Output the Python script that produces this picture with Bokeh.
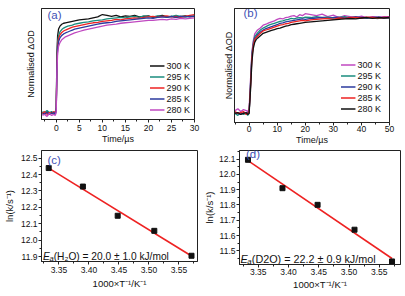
import numpy as np
from bokeh.plotting import figure
from bokeh.layouts import row, column
from bokeh.models import SingleIntervalTicker, FixedTicker, PrintfTickFormatter, Range1d
from bokeh.core.properties import value
from bokeh.embed import file_html
from bokeh.resources import INLINE

FONT = "Liberation Sans"

# ---------------- data: panel (a), H2O kinetics ----------------
time_a = [-3, -2.5, -2, -1.5, -1, -0.5, -0.2, 0, 0.15, 0.3,
          0.5, 0.8, 1.2, 1.6, 2, 2.5, 3, 3.5, 4, 5,
          6, 7, 8, 9, 10, 11, 12, 13, 14, 15,
          16, 17, 18, 19, 20, 21, 22, 23, 24, 25,
          26, 27, 28, 29, 30]
a_300 = [0.01, -0.01, 0.02, 0.0, 0.01, -0.01, 0.01, 0.06, 0.62, 0.80,
         0.87, 0.90, 0.92, 0.93, 0.935, 0.94, 0.945, 0.95, 0.955, 0.965,
         0.97, 0.975, 0.985, 0.995, 1.02, 1.01, 1.0, 1.01, 0.995, 1.005,
         1.0, 1.01, 0.995, 1.0, 1.005, 0.99, 1.0, 1.01, 0.995, 1.0,
         0.99, 1.0, 1.005, 0.995, 1.0]
a_295 = [0.02, 0.01, 0.03, 0.01, 0.02, 0.0, 0.02, 0.05, 0.55, 0.74,
         0.80, 0.84, 0.865, 0.88, 0.89, 0.90, 0.905, 0.91, 0.92, 0.93,
         0.94, 0.945, 0.955, 0.96, 0.965, 0.975, 0.98, 0.985, 0.99, 0.985,
         0.995, 1.0, 0.99, 1.005, 1.0, 0.995, 1.005, 1.0, 0.99, 1.0,
         1.01, 1.0, 0.995, 1.0, 1.005]
a_290 = [0.0, 0.02, -0.01, 0.01, 0.0, 0.02, 0.0, 0.04, 0.50, 0.70,
         0.77, 0.81, 0.835, 0.85, 0.86, 0.87, 0.88, 0.89, 0.895, 0.905,
         0.915, 0.925, 0.935, 0.94, 0.95, 0.955, 0.96, 0.97, 0.965, 0.975,
         0.98, 0.985, 0.98, 0.99, 0.995, 1.0, 0.99, 1.0, 1.005, 0.995,
         1.0, 0.99, 1.0, 1.01, 1.02]
a_285 = [-0.01, 0.0, 0.01, -0.01, 0.0, 0.01, -0.01, 0.03, 0.46, 0.67,
         0.74, 0.78, 0.805, 0.82, 0.83, 0.84, 0.85, 0.86, 0.87, 0.88,
         0.89, 0.90, 0.91, 0.92, 0.93, 0.935, 0.94, 0.95, 0.955, 0.96,
         0.965, 0.97, 0.975, 0.98, 0.985, 0.98, 0.99, 0.995, 0.99, 1.0,
         0.99, 1.0, 0.995, 1.0, 1.0]
a_280 = [-0.02, -0.01, -0.03, 0.0, -0.02, -0.01, -0.02, 0.02, 0.42, 0.62,
         0.69, 0.73, 0.76, 0.775, 0.79, 0.80, 0.81, 0.82, 0.83, 0.845,
         0.86, 0.87, 0.88, 0.89, 0.90, 0.91, 0.915, 0.92, 0.93, 0.935,
         0.94, 0.945, 0.95, 0.955, 0.96, 0.96, 0.965, 0.97, 0.965, 0.975,
         0.97, 0.98, 0.975, 0.98, 0.985]

# ---------------- data: panel (b), D2O kinetics ----------------
time_b = [-5, -4, -3, -2, -1, -0.5, 0, 0.5, 1, 1.5, 2, 2.5, 3,
          4, 5, 6, 7, 8, 9, 10, 11, 12, 13, 14, 15, 16, 17, 18, 19, 20,
          22, 24, 26, 28, 30, 32, 34, 36, 38, 40, 42, 44, 46, 48, 50]
b_300 = [0.03, 0.05, 0.02, 0.04, 0.03, 0.02, 0.05, 0.35, 0.64, 0.76, 0.83, 0.85, 0.87,
         0.89, 0.92, 0.93, 0.945, 0.955, 0.965, 0.98, 0.99, 0.985, 1.0, 1.005, 1.015, 1.02, 1.005, 1.03, 1.02, 1.04,
         1.03, 1.02, 1.035, 1.01, 1.025, 1.0, 1.02, 1.01, 1.0, 1.015, 1.0, 1.01, 1.005, 1.01, 1.01]
b_295 = [0.0, -0.02, 0.01, -0.01, 0.0, -0.02, 0.0, 0.31, 0.62, 0.74, 0.80, 0.82, 0.84,
         0.87, 0.89, 0.905, 0.92, 0.93, 0.94, 0.95, 0.96, 0.965, 0.975, 0.98, 0.99, 0.985, 0.995, 1.0, 0.995, 1.005,
         1.0, 1.01, 1.0, 1.005, 0.995, 1.0, 1.01, 0.995, 1.0, 0.99, 1.0, 0.995, 0.99, 1.0, 0.995]
b_290 = [0.01, 0.0, -0.01, 0.01, 0.0, 0.01, 0.01, 0.29, 0.60, 0.72, 0.78, 0.80, 0.82,
         0.85, 0.87, 0.885, 0.895, 0.905, 0.915, 0.925, 0.94, 0.945, 0.955, 0.96, 0.965, 0.97, 0.975, 0.98, 0.985, 0.98,
         0.99, 0.995, 1.0, 0.99, 1.0, 1.005, 0.995, 1.0, 1.01, 1.0, 0.995, 1.0, 1.005, 0.995, 1.0]
b_285 = [0.02, 0.0, 0.01, 0.02, -0.01, 0.0, 0.02, 0.27, 0.58, 0.71, 0.77, 0.79, 0.805,
         0.835, 0.86, 0.87, 0.88, 0.89, 0.90, 0.91, 0.92, 0.925, 0.935, 0.94, 0.95, 0.955, 0.96, 0.965, 0.97, 0.965,
         0.975, 0.98, 0.985, 0.99, 0.98, 0.995, 0.99, 1.0, 1.0, 0.995, 1.005, 1.0, 0.995, 1.0, 1.0]
b_280 = [0.0, 0.01, -0.01, 0.0, 0.01, -0.01, 0.0, 0.24, 0.54, 0.68, 0.74, 0.77, 0.785,
         0.81, 0.835, 0.845, 0.855, 0.865, 0.875, 0.885, 0.89, 0.90, 0.91, 0.915, 0.925, 0.93, 0.935, 0.94, 0.945, 0.95,
         0.955, 0.96, 0.965, 0.97, 0.975, 0.98, 0.985, 0.99, 0.985, 0.995, 1.0, 0.99, 1.0, 0.995, 1.0]

# ---------------- data: Arrhenius panels (c), (d) ----------------
inv_T = [3.333, 3.390, 3.448, 3.509, 3.571]          # 1000/T, K^-1
lnk_h2o = [12.44, 12.327, 12.149, 12.057, 11.905]
lnk_d2o = [12.096, 11.910, 11.801, 11.638, 11.430]

temps = ["300 K", "295 K", "290 K", "285 K", "280 K"]

BLACK = "#111111"
TEAL = "#1a8c7e"
RED = "#ee2222"
BLUE = "#2b3a9e"
MAGENTA = "#c048c0"
LABEL_BLUE = "#3f51b5"
TEXT = "#111111"


def make_fig(xr, yr, fw, fh, ml, mr, mt, mb):
    p = figure(frame_width=fw, frame_height=fh,
               x_range=Range1d(*xr), y_range=Range1d(*yr),
               min_border_left=ml, min_border_right=mr,
               min_border_top=mt, min_border_bottom=mb,
               output_backend="svg", toolbar_location=None, tools="")
    p.grid.visible = False
    p.outline_line_color = "#222222"
    p.outline_line_width = 1
    for ax in (p.xaxis[0], p.yaxis[0]):
        ax.axis_line_color = "#222222"
        ax.major_tick_line_color = "#222222"
        ax.minor_tick_line_color = "#222222"
        ax.major_tick_in = 0
        ax.major_tick_out = 3
        ax.minor_tick_in = 0
        ax.minor_tick_out = 2
        ax.major_label_text_font = FONT
        ax.major_label_text_font_size = "8.5px"
        ax.major_label_text_color = TEXT
        ax.axis_label_text_font = FONT
        ax.axis_label_text_font_style = "normal"
        ax.axis_label_text_color = TEXT
    return p


def kinetics_yaxis(p, standoff):
    ax = p.yaxis[0]
    ax.ticker = FixedTicker(ticks=[])
    ax.major_tick_out = 0
    ax.minor_tick_out = 0
    ax.major_label_standoff = 0
    ax.axis_label = "Normalised ΔOD"
    ax.axis_label_text_font_size = "9px"
    ax.axis_label_standoff = standoff


def style_legend(p, margin):
    lg = p.legend[0]
    lg.location = "bottom_right"
    lg.background_fill_alpha = 0
    lg.border_line_alpha = 0
    lg.padding = 0
    lg.spacing = 0
    lg.margin = margin
    lg.label_height = 11
    lg.glyph_height = 11
    lg.glyph_width = 15
    lg.label_standoff = 2
    lg.label_text_font = FONT
    lg.label_text_font_size = "9px"
    lg.label_text_color = TEXT


def panel_letter(p, x, y, s):
    p.text(x=[x], y=[y], text=[s], text_font=value(FONT), text_font_size="11.5px",
           text_color=LABEL_BLUE, text_baseline="middle", text_align="left")


# ---------------- panel (a) ----------------
pa = make_fig((-3.2, 30), (-0.062, 1.082), 153, 111, 41, 16, 7, 27)
pa.xaxis.ticker = SingleIntervalTicker(interval=5, num_minor_ticks=2)
pa.xaxis.axis_label = "Time/µs"
pa.xaxis.axis_label_text_font_size = "9px"
pa.xaxis.major_label_standoff = 2
pa.xaxis.axis_label_standoff = 0
kinetics_yaxis(pa, 6)
for ys, c, lab in zip([a_300, a_295, a_290, a_285, a_280],
                      [BLACK, TEAL, RED, BLUE, MAGENTA], temps):
    pa.line(time_a, ys, line_color=c, line_width=1.3, legend_label=lab)
style_legend(pa, 4)
panel_letter(pa, -1.9, 1.01, "(a)")

# ---------------- panel (b) ----------------
pb = make_fig((-5.2, 50), (-0.094, 1.094), 155, 114, 24, 14, 8, 23)
pb.xaxis.ticker = SingleIntervalTicker(interval=10, num_minor_ticks=2)
pb.xaxis.axis_label = "Time/µs"
pb.xaxis.axis_label_text_font_size = "9px"
pb.xaxis.major_label_standoff = 0
pb.xaxis.axis_label_standoff = 0
kinetics_yaxis(pb, 1)
for ys, c, lab in zip([b_300, b_295, b_290, b_285, b_280],
                      [MAGENTA, TEAL, BLUE, RED, BLACK], temps):
    pb.line(time_b, ys, line_color=c, line_width=1.3, legend_label=lab)
style_legend(pb, 8)
panel_letter(pb, -2.0, 1.042, "(b)")


def arrhenius(p, lnk):
    coef = np.polyfit(inv_T, lnk, 1)
    xs = [inv_T[0], inv_T[-1]]
    ys = [coef[0] * xv + coef[1] for xv in xs]
    p.line(xs, ys, line_color=RED, line_width=1.6)
    p.scatter(inv_T, lnk, marker="square", size=5, fill_color=BLACK, line_color=BLACK)
    p.xaxis.ticker = SingleIntervalTicker(interval=0.05, num_minor_ticks=2)
    p.yaxis.ticker = SingleIntervalTicker(interval=0.1, num_minor_ticks=2)
    p.xaxis.formatter = PrintfTickFormatter(format="%.2f")
    p.yaxis.formatter = PrintfTickFormatter(format="%.1f")
    p.xaxis.axis_label = "1000×T⁻¹/K⁻¹"
    p.yaxis.axis_label = "ln(k/s⁻¹)"
    p.xaxis.axis_label_text_font_size = "9.5px"
    p.yaxis.axis_label_text_font_size = "9.5px"
    p.xaxis.major_label_standoff = 2
    p.yaxis.major_label_standoff = 1


def ea_label(p, x, y, size, sub_size, sub_dx, rest_dx, rest):
    tf = value(FONT)
    p.text(x=[x], y=[y], text=["E"], text_font=tf, text_font_size=size,
           text_font_style="italic", text_baseline="alphabetic", text_color=TEXT)
    p.text(x=[x], y=[y], text=["a"], text_font=tf, text_font_size=sub_size,
           x_offset=sub_dx, y_offset=2.5, text_font_style="italic",
           text_baseline="alphabetic", text_color=TEXT)
    p.text(x=[x], y=[y], text=[rest], text_font=tf, text_font_size=size,
           x_offset=rest_dx, text_baseline="alphabetic", text_color=TEXT)


# ---------------- panel (c) ----------------
pc = make_fig((3.321, 3.581), (11.87, 12.547), 156, 111, 39, 3, 3, 29)
arrhenius(pc, lnk_h2o)
pc.xaxis.axis_label_standoff = 2
pc.yaxis.axis_label_standoff = 3
panel_letter(pc, 3.331, 12.492, "(c)")
ea_label(pc, 3.3237, 11.902, "10.2px", "7.5px", 6.3, 10.6, "(H₂O) = 20.0 ± 1.0 kJ/mol")

# ---------------- panel (d) ----------------
pd_ = make_fig((3.319, 3.585), (11.41, 12.157), 161, 114, 36, 2, 3, 26)
arrhenius(pd_, lnk_d2o)
pd_.xaxis.major_label_standoff = 1
pd_.xaxis.axis_label_standoff = 1
pd_.yaxis.axis_label_standoff = 1
panel_letter(pd_, 3.3296, 12.131, "(d)")
ea_label(pd_, 3.3205, 11.443, "10.8px", "7.8px", 6.8, 11.4, "(D2O) = 22.2 ± 0.9 kJ/mol")

layout = column(row(pa, pb), row(pc, pd_))

with open("out.html", "w") as f:
    f.write(file_html(layout, INLINE))
